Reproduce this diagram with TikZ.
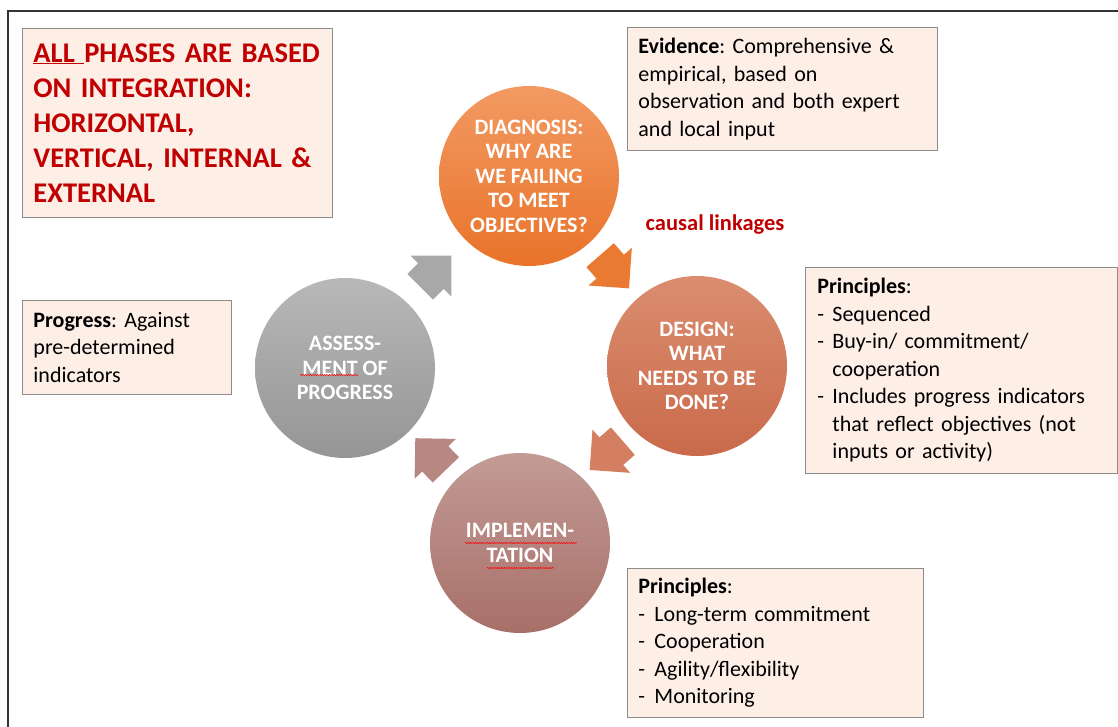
\documentclass[tikz,border=0pt]{standalone}
\usepackage{fontspec}
\setmainfont{Carlito}
\frenchspacing
\usetikzlibrary{shapes.arrows,decorations.pathmorphing}
\definecolor{boxfill}{HTML}{FDEEE6}
\definecolor{boxline}{HTML}{8C8C8C}
\definecolor{darkred}{HTML}{C00000}
\definecolor{diagT}{HTML}{F29A62}
\definecolor{diagB}{HTML}{E9732A}
\definecolor{desT}{HTML}{DB8D70}
\definecolor{desB}{HTML}{C96A4A}
\definecolor{impT}{HTML}{C39B95}
\definecolor{impB}{HTML}{A86F69}
\definecolor{assT}{HTML}{B8B8B8}
\definecolor{assB}{HTML}{959595}
\tikzset{
  infobox/.style={draw=boxline, line width=0.9pt, fill=boxfill, anchor=north west,
    inner xsep=11pt, inner ysep=0pt, align=left,
    font=\fontsize{22}{27.5}\selectfont},
  phase/.style={circle, minimum size=180pt, inner sep=0pt, text=white, align=center,
    font=\fontsize{22}{24.5}\selectfont\bfseries},
  cyclearrow/.style={single arrow, anchor=tail, minimum height=44pt,
    inner xsep=0pt, inner ysep=18pt,
    single arrow head extend=10.5pt, single arrow tip angle=90, draw=none},
  spell/.style={draw=red, line width=0.5pt, decorate,
    decoration={snake, amplitude=0.6pt, segment length=2.4pt}}
}
\newcommand{\itm}[1]{\makebox[15pt][l]{-}#1}
\newcommand{\cnt}[1]{\hspace*{15pt}#1}
\begin{document}
\begin{tikzpicture}[x=1pt,y=-1pt]
\useasboundingbox (0,0) rectangle (1118,727);
% outer frame
\draw[line width=1.4pt, black!80] (8,740) -- (8,11) -- (1130,11);

% title box
\node[infobox, text width=288pt, minimum height=189pt, text=darkred,
      font=\fontsize{28.5}{35}\selectfont\bfseries] (title) at (22,28)
  {\underline{ALL\ }PHASES ARE BASED\\ON INTEGRATION:\\HORIZONTAL,\\VERTICAL, INTERNAL \&\\EXTERNAL};

% evidence box
\node[infobox, text width=288pt, minimum height=123pt] (evid) at (627,27)
  {\textbf{Evidence}: Comprehensive \&\\empirical, based on\\observation and both expert\\and local input};

% progress box
\node[infobox, text width=187pt, minimum height=94pt] (prog) at (22,300)
  {\textbf{Progress}: Against\\pre-determined\\indicators};

% design principles
\node[infobox, inner xsep=12pt, text width=288pt, minimum height=206pt] (desprin) at (805,267)
  {\textbf{Principles}:\\\itm{Sequenced}\\\itm{Buy-in/ commitment/}\\\cnt{cooperation}\\\itm{Includes progress indicators}\\\cnt{that reflect objectives (not}\\\cnt{inputs or activity)}};

% implementation principles
\node[infobox, text width=274pt, minimum height=149pt] (impprin) at (627,568)
  {\textbf{Principles}:\\\itm{\hspace{1pt}Long-term commitment}\\\itm{\hspace{1pt}Cooperation}\\\itm{\hspace{1pt}Agility/flexibility}\\\itm{\hspace{1pt}Monitoring}};

% phases
\node[phase, top color=diagT, bottom color=diagB] (diag) at (529,176)
  {DIAGNOSIS:\\WHY ARE\\WE FAILING\\TO MEET\\OBJECTIVES?};
\node[phase, top color=desT, bottom color=desB] (design) at (697,366)
  {DESIGN:\\WHAT\\NEEDS TO BE\\DONE?};
\node[phase, top color=impT, bottom color=impB] (impl) at (520,543)
  {IMPLEMEN-\\TATION};
\node[phase, top color=assT, bottom color=assB] (assess) at (345,368)
  {ASSESS-\\MENT OF\\PROGRESS};

% spell-check underlines
\draw[spell] (300,375) -- (358,375);
\draw[spell] (465,543) -- (577,543);
\draw[spell] (487,568) -- (554,568);

% cycle arrows
\node[cyclearrow, fill=diagB!85!diagT, rotate=-49] (a1) at (600,255) {};
\node[cyclearrow, fill=desT!60!desB, rotate=-139] (a2) at (623,441) {};
\node[cyclearrow, fill=impT!55!impB, rotate=134] (a3) at (446,470) {};
\node[cyclearrow, fill=assT!55!assB, rotate=45] (a4) at (420,287) {};

% causal linkages
\node[text=darkred, font=\fontsize{22.5}{26}\selectfont\bfseries, inner sep=0pt] (causal) at (715,225) {causal linkages};
\end{tikzpicture}
\end{document}
